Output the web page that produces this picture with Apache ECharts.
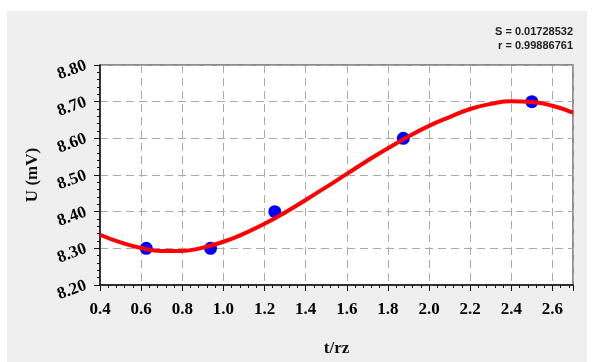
<!DOCTYPE html>
<html>
<head>
<meta charset="utf-8">
<script src="https://cdn.jsdelivr.net/npm/echarts@6/dist/echarts.min.js"></script>
<style>
html,body{margin:0;padding:0;background:#fff;}
#c{width:597px;height:362px;}
</style>
</head>
<body>
<div id="c"></div>
<script>
// Measured points
var pointT = [0.625, 0.9375, 1.25, 1.875, 2.5];
var pointU = [8.30, 8.30, 8.40, 8.60, 8.70];
// Fitted curve
var curveT = [0.4,0.5,0.6,0.7,0.8,0.9,1.0,1.1,1.2,1.3,1.4,1.5,1.6,1.7,1.8,1.9,2.0,2.1,2.2,2.3,2.4,2.5,2.6,2.7];
var curveU = [8.337,8.316,8.301,8.293,8.293,8.302,8.318,8.340,8.367,8.398,8.432,8.467,8.503,8.539,8.573,8.605,8.634,8.658,8.680,8.694,8.701,8.699,8.689,8.670];
var statLines = ['S = 0.01728532', 'r = 0.99886761'];
var xName = 't/rz';
var yName = 'U (mV)';

var chart = echarts.init(document.getElementById('c'), null, {renderer:'canvas'});
var serif = '"Liberation Serif","Times New Roman",serif';
var sans = '"Liberation Sans",Arial,sans-serif';

chart.setOption({
  animation: false,
  backgroundColor: '#fff',
  graphic: [
    {type:'rect', z:-10, shape:{x:7,y:11,width:580,height:351}, style:{fill:'#efefef'}, silent:true},
    {type:'text', right:24, top:26, z:10, style:{text:statLines[0], font:'bold 11px '+sans, fill:'#222', textAlign:'right'}},
    {type:'text', right:24, top:40, z:10, style:{text:statLines[1], font:'bold 11px '+sans, fill:'#222', textAlign:'right'}}
  ],
  grid: {left:100, top:65, width:473, height:225, show:true, backgroundColor:'#fff', borderColor:'#6b6b6b', borderWidth:1.5},
  xAxis: {
    type:'value', min:0.4, max:2.7, interval:0.2,
    name:xName, nameLocation:'middle', nameGap:55,
    nameTextStyle:{fontFamily:serif, fontWeight:'bold', fontSize:17, color:'#111'},
    axisLine:{show:true, lineStyle:{color:'#111', width:1.5}},
    axisTick:{show:true, inside:false, length:6, lineStyle:{color:'#111', width:1}},
    minorTick:{show:true, splitNumber:5, length:3, lineStyle:{color:'#111', width:1}},
    axisLabel:{fontFamily:serif, fontWeight:'bold', fontSize:17, color:'#000', margin:16, showMaxLabel:false,
      formatter:function(v){return v.toFixed(1);}},
    splitLine:{show:true, lineStyle:{color:'#aaa', type:[8,5], width:1}}
  },
  yAxis: {
    type:'value', min:8.2, max:8.8, interval:0.1,
    name:yName, nameLocation:'middle', nameGap:59,
    nameTextStyle:{fontFamily:serif, fontWeight:'bold', fontSize:17, color:'#111'},
    axisLine:{show:true, lineStyle:{color:'#111', width:1.5}},
    axisTick:{show:true, inside:false, length:6, lineStyle:{color:'#111', width:1}},
    minorTick:{show:true, splitNumber:5, length:3, lineStyle:{color:'#111', width:1}},
    axisLabel:{fontFamily:serif, fontWeight:'bold', fontSize:17, color:'#000', margin:14, rotate:20,
      formatter:function(v){return v.toFixed(2);}},
    splitLine:{show:true, lineStyle:{color:'#aaa', type:[8,5], width:1}}
  },
  series: [
    {type:'scatter', z:2, symbol:'circle', symbolSize:13, itemStyle:{color:'#0000ff', opacity:1},
      data: pointT.map(function(t,i){return [t, pointU[i]];})},
    {type:'line', z:3, smooth:true, symbol:'none', lineStyle:{color:'#ff0000', width:4},
      data: curveT.map(function(t,i){return [t, curveU[i]];})}
  ]
});
</script>
</body>
</html>
